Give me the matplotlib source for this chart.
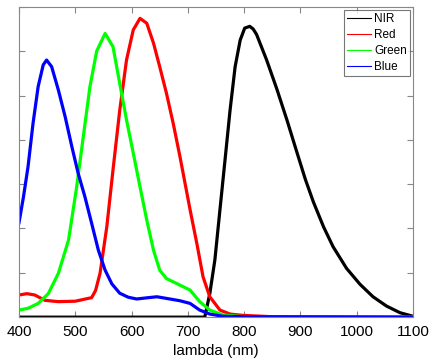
import numpy as np
import matplotlib.pyplot as plt

plt.rcParams['font.family'] = ['Liberation Sans', 'DejaVu Sans']

# wavelength (nm) / response
nir_x = [400, 500, 600, 700, 730, 739, 748, 757, 766, 775, 784, 793, 801, 810, 816, 822,
         840, 858, 876, 893, 909, 923, 941, 958, 982, 1006, 1029, 1053, 1077, 1100]
nir_y = [0, 0, 0, 0, 0, 0.53, 1.29, 2.42, 3.54, 4.67, 5.65, 6.25, 6.52, 6.56, 6.50, 6.38,
         5.80, 5.15, 4.45, 3.75, 3.10, 2.60, 2.04, 1.59, 1.10, 0.74, 0.46, 0.25, 0.10, 0.02]

red_x = [400, 414, 428, 446, 470, 500, 529, 536, 544, 556, 567, 579, 591, 603, 615, 627,
         639, 650, 662, 674, 686, 704, 716, 727, 739, 757, 775, 798, 850, 1100]
red_y = [0.50, 0.53, 0.50, 0.38, 0.35, 0.36, 0.44, 0.60, 0.99, 2.04, 3.32, 4.67, 5.80, 6.48,
         6.74, 6.63, 6.18, 5.65, 5.05, 4.37, 3.62, 2.42, 1.66, 0.91, 0.46, 0.16, 0.07, 0.04,
         0.01, 0.0]

green_x = [400, 416, 434, 452, 470, 488, 502, 514, 526, 538, 553, 567, 579, 591, 603, 615,
           627, 639, 650, 662, 680, 704, 721, 739, 762, 800, 1100]
green_y = [0.16, 0.20, 0.31, 0.53, 0.99, 1.74, 2.90, 4.05, 5.20, 6.00, 6.40, 6.10, 5.27,
           4.45, 3.70, 2.94, 2.19, 1.51, 1.06, 0.87, 0.76, 0.61, 0.35, 0.16, 0.05, 0.01, 0.0]

blue_x = [400, 408, 416, 425, 434, 443, 449, 458, 470, 482, 494, 505, 517, 529, 541, 553,
          565, 579, 594, 609, 630, 645, 668, 686, 704, 721, 739, 762, 800, 1100]
blue_y = [2.13, 2.72, 3.39, 4.38, 5.20, 5.69, 5.80, 5.65, 5.12, 4.52, 3.84, 3.25, 2.72,
          2.12, 1.51, 1.06, 0.75, 0.54, 0.45, 0.41, 0.44, 0.46, 0.41, 0.37, 0.31, 0.16,
          0.07, 0.02, 0.01, 0.0]

fig = plt.figure(figsize=(4.36, 3.6), dpi=100)
ax = fig.add_axes([0.0436, 0.119, 0.9036, 0.862])

ax.plot(nir_x, nir_y, color='k', lw=2.3, label='NIR')
ax.plot(red_x, red_y, color='#ff0000', lw=2.3, label='Red')
ax.plot(green_x, green_y, color='#00ff00', lw=2.3, label='Green')
ax.plot(blue_x, blue_y, color='#0000ff', lw=2.3, label='Blue')

ax.set_xlim(400, 1100)
ax.set_ylim(0, 7)
ax.set_xticks(np.arange(400, 1101, 100))
ax.set_yticks(np.arange(0, 8, 1))
ax.set_yticklabels([])
ax.tick_params(direction='in', top=True, right=True, length=4, color='#888888',
               labelsize=11, pad=6)
for s in ax.spines.values():
    s.set_color('#888888')
ax.set_xlabel('lambda (nm)', fontsize=11, labelpad=3)

leg = ax.legend(loc='upper right', fontsize=8.5, frameon=True, fancybox=False,
                handlelength=2.0, handletextpad=0.3, borderpad=0.25, labelspacing=0.35,
                borderaxespad=0.25)
leg.get_frame().set_edgecolor('#555555')
leg.get_frame().set_linewidth(0.8)
for ln in leg.get_lines():
    ln.set_linewidth(0.8)

fig.savefig('out.png', dpi=100)
